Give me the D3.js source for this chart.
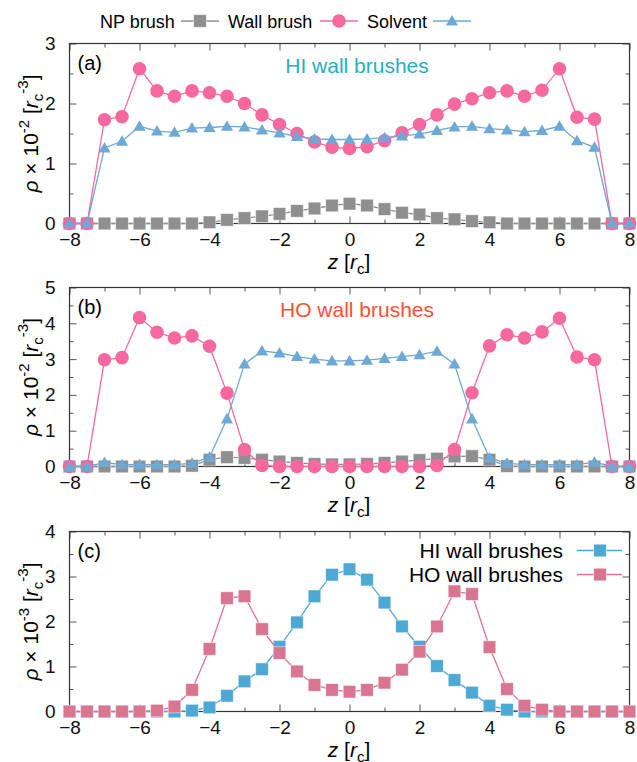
<!DOCTYPE html>
<html>
<head>
<meta charset="utf-8">
<script src="https://cdn.jsdelivr.net/npm/d3@7"></script>
<style>
  body { margin: 0; background: #fff; }
  text { font-family: "Liberation Sans", Arial, sans-serif; }
</style>
</head>
<body>
<svg id="chart" width="637" height="762"></svg>
<script>
// z positions shared by every series
const zVals = [-8, -7.5, -7, -6.5, -6, -5.5, -5, -4.5, -4, -3.5, -3, -2.5, -2, -1.5, -1, -0.5,
  0, 0.5, 1, 1.5, 2, 2.5, 3, 3.5, 4, 4.5, 5, 5.5, 6, 6.5, 7, 7.5, 8]

// panel (a) HI wall brushes, rho x 1e-2
const aNP = [0, 0, 0, 0, 0, 0, 0, 0, 0.02, 0.06, 0.09, 0.12, 0.16, 0.21, 0.25, 0.30,
  0.33, 0.30, 0.24, 0.18, 0.15, 0.09, 0.07, 0.04, 0.02, 0, 0, 0, 0, 0, 0, 0, 0]
const aWall = [0, 0, 1.73, 1.78, 2.58, 2.21, 2.12, 2.21, 2.18, 2.12, 2.0, 1.81, 1.65, 1.50, 1.36, 1.27,
  1.25, 1.28, 1.38, 1.51, 1.65, 1.81, 1.99, 2.08, 2.18, 2.21, 2.12, 2.22, 2.58, 1.77, 1.74, 0, 0]
const aSolv = [0, 0, 1.26, 1.37, 1.62, 1.54, 1.52, 1.59, 1.60, 1.62, 1.61, 1.56, 1.51, 1.45, 1.41, 1.40,
  1.40, 1.41, 1.43, 1.46, 1.49, 1.55, 1.61, 1.62, 1.58, 1.56, 1.53, 1.55, 1.62, 1.38, 1.27, 0, 0]

// panel (b) HO wall brushes, rho x 1e-2
const bNP = [0, 0, 0, 0, 0, 0, 0, 0.02, 0.19, 0.26, 0.24, 0.19, 0.14, 0.10, 0.07, 0.06,
  0.06, 0.07, 0.10, 0.14, 0.18, 0.22, 0.28, 0.29, 0.19, 0.01, 0, 0, 0, 0, 0, 0, 0]
const bWall = [0, 0, 2.98, 3.04, 4.16, 3.75, 3.59, 3.65, 3.36, 2.05, 0.47, 0.03, 0, 0, 0, 0,
  0, 0, 0, 0, 0, 0.03, 0.47, 2.06, 3.37, 3.68, 3.59, 3.76, 4.14, 3.06, 2.98, 0, 0]
const bSolv = [0, 0, 0.11, 0.05, 0.05, 0.05, 0.05, 0.09, 0.26, 1.33, 2.86, 3.23, 3.17, 3.07, 3.0, 2.95,
  2.95, 2.97, 3.02, 3.07, 3.12, 3.22, 2.86, 1.33, 0.24, 0.09, 0.05, 0.05, 0.05, 0.05, 0.12, 0, 0]

// panel (c) NP brush, rho x 1e-3
const cHI = [0, 0, 0, 0, 0, 0, 0, 0.02, 0.09, 0.35, 0.67, 0.94, 1.44, 1.98, 2.56, 3.04,
  3.16, 2.93, 2.42, 1.89, 1.44, 1.01, 0.70, 0.42, 0.13, 0.04, 0, 0, 0, 0, 0, 0, 0]
const cHO = [0, 0, 0, 0, 0, 0.02, 0.11, 0.48, 1.39, 2.52, 2.56, 1.83, 1.30, 0.89, 0.59, 0.48,
  0.44, 0.48, 0.64, 0.93, 1.33, 1.89, 2.67, 2.61, 1.43, 0.50, 0.13, 0.04, 0, 0, 0, 0, 0]

const xTicks = [-8, -6, -4, -2, 0, 2, 4, 6, 8]

const colors = {
  np: '#8f8f8f', wall: '#f7699e', solv: '#6ea9d6',
  hi: '#4ea8d4', ho: '#d97591', hiTitle: '#1fb0c2', hoTitle: '#ff4f35'
}

const svg = d3.select('#chart')
const left = 69.5, right = 629.5
const x = d3.scaleLinear().domain([-8, 8]).range([left, right])

const panels = [
  { top: 43.5, bottom: 223.5, yMax: 3, exp: '-2', tag: '(a)', title: 'HI wall brushes', titleColor: colors.hiTitle,
    series: [
      { vals: aNP, color: colors.np, shape: 'square' },
      { vals: aWall, color: colors.wall, shape: 'circle' },
      { vals: aSolv, color: colors.solv, shape: 'triangle' }] },
  { top: 287.5, bottom: 466.5, yMax: 5, exp: '-2', tag: '(b)', title: 'HO wall brushes', titleColor: colors.hoTitle,
    series: [
      { vals: bNP, color: colors.np, shape: 'square' },
      { vals: bWall, color: colors.wall, shape: 'circle' },
      { vals: bSolv, color: colors.solv, shape: 'triangle' }] },
  { top: 531.5, bottom: 711.5, yMax: 4, exp: '-3', tag: '(c)', title: null,
    series: [
      { vals: cHI, color: colors.hi, shape: 'square', label: 'HI wall brushes' },
      { vals: cHO, color: colors.ho, shape: 'square', label: 'HO wall brushes' }] }
]

function marker(g, shape, color, cx, cy) {
  if (shape == 'circle') {
    g.append('circle').attr('cx', cx).attr('cy', cy).attr('r', 6.8).attr('fill', color)
  } else if (shape == 'square') {
    g.append('rect').attr('x', cx - 6.3).attr('y', cy - 6.3).attr('width', 12.6).attr('height', 12.6)
      .attr('fill', color).attr('stroke', '#fff').attr('stroke-opacity', 0.6).attr('stroke-width', 0.8)
  } else {
    g.append('path').attr('d', d3.symbol(d3.symbolTriangle, 64)()).attr('transform', `translate(${cx},${cy + 1})`)
      .attr('fill', color)
  }
}

function rangeStep(a, b, s) {
  const out = []
  for (let v = a; v <= b + 1e-9; v += s) out.push(+v.toFixed(3))
  return out
}

panels.forEach(p => {
  const y = d3.scaleLinear().domain([0, p.yMax]).range([p.bottom, p.top])
  const g = svg.append('g')

  // inward ticks on all four sides
  const axStyle = sel => {
    sel.select('.domain').remove()
    sel.selectAll('line').attr('stroke', '#555')
    sel.selectAll('text').attr('font-size', 19).attr('fill', '#111')
  }
  const minorX = rangeStep(-7, 7, 2)
  const minorY = rangeStep(0.5, p.yMax, 1)
  const majorY = rangeStep(0, p.yMax, 1)

  g.append('g').attr('transform', `translate(0,${p.bottom})`)
    .call(d3.axisBottom(x).tickValues(xTicks).tickSize(-7).tickPadding(9).tickFormat(d3.format('d')))
    .call(axStyle)
  g.append('g').attr('transform', `translate(0,${p.bottom})`)
    .call(d3.axisBottom(x).tickValues(minorX).tickSize(-4).tickFormat('')).call(axStyle)
  g.append('g').attr('transform', `translate(0,${p.top})`)
    .call(d3.axisTop(x).tickValues(xTicks).tickSize(-7).tickFormat('')).call(axStyle)
  g.append('g').attr('transform', `translate(0,${p.top})`)
    .call(d3.axisTop(x).tickValues(minorX).tickSize(-4).tickFormat('')).call(axStyle)
  g.append('g').attr('transform', `translate(${left},0)`)
    .call(d3.axisLeft(y).tickValues(majorY).tickSize(-7).tickPadding(14).tickFormat(d3.format('d')))
    .call(axStyle)
  g.append('g').attr('transform', `translate(${left},0)`)
    .call(d3.axisLeft(y).tickValues(minorY).tickSize(-4).tickFormat('')).call(axStyle)
  g.append('g').attr('transform', `translate(${right},0)`)
    .call(d3.axisRight(y).tickValues(majorY).tickSize(-7).tickFormat('')).call(axStyle)
  g.append('g').attr('transform', `translate(${right},0)`)
    .call(d3.axisRight(y).tickValues(minorY).tickSize(-4).tickFormat('')).call(axStyle)

  g.append('rect').attr('x', left).attr('y', p.top).attr('width', right - left).attr('height', p.bottom - p.top)
    .attr('fill', 'none').attr('stroke', '#333').attr('stroke-width', 1.2)

  // series
  const line = d3.line().x((d, i) => x(zVals[i])).y(d => y(d))
  p.series.forEach(s => {
    g.append('path').datum(s.vals).attr('d', line).attr('fill', 'none')
      .attr('stroke', s.color).attr('stroke-width', 1.3)
    const mg = g.append('g')
    s.vals.forEach((v, i) => marker(mg, s.shape, s.color, x(zVals[i]), y(v)))
  })

  // panel tag and title
  g.append('text').attr('x', left + 8).attr('y', p.top + 26).attr('font-size', 20).text(p.tag)
  if (p.title) {
    g.append('text').attr('x', 357).attr('y', p.top + 29).attr('text-anchor', 'middle')
      .attr('font-size', 21).attr('fill', p.titleColor).text(p.title)
  }

  // x label
  const xl = g.append('text').attr('x', 349).attr('y', p.bottom + 45).attr('text-anchor', 'middle').attr('font-size', 21)
  xl.append('tspan').attr('font-style', 'italic').text('z')
  xl.append('tspan').text(' [')
  xl.append('tspan').attr('font-style', 'italic').text('r')
  xl.append('tspan').attr('font-size', 15).attr('dy', 5).text('c')
  xl.append('tspan').attr('dy', -5).text(']')

  // y label
  const cy = (p.top + p.bottom) / 2
  const yl = g.append('text').attr('transform', `translate(38,${cy}) rotate(-90)`)
    .attr('text-anchor', 'middle').attr('font-size', 21)
  yl.append('tspan').attr('font-style', 'italic').text('ρ')
  yl.append('tspan').text(' × 10')
  yl.append('tspan').attr('font-size', 15).attr('dy', -9).text(p.exp)
  yl.append('tspan').attr('dy', 9).text(' [')
  yl.append('tspan').attr('font-style', 'italic').text('r')
  yl.append('tspan').attr('font-size', 15).attr('dy', 5).text('c')
  yl.append('tspan').attr('font-size', 15).attr('dy', -15).text('-3')
  yl.append('tspan').attr('dy', 10).text(']')

  // legend inside panel (c)
  p.series.filter(s => s.label).forEach((s, i) => {
    const ly = p.top + 19 + i * 24
    g.append('text').attr('x', 563).attr('y', ly + 7).attr('text-anchor', 'end').attr('font-size', 21).text(s.label)
    g.append('line').attr('x1', 577).attr('x2', 622).attr('y1', ly).attr('y2', ly)
      .attr('stroke', s.color).attr('stroke-width', 1.3)
    marker(g, s.shape, s.color, 600, ly)
  })
})

// top legend
const topLegend = [
  { label: 'NP brush', color: colors.np, shape: 'square', tx: 100, lx: 181 },
  { label: 'Wall brush', color: colors.wall, shape: 'circle', tx: 228, lx: 320 },
  { label: 'Solvent', color: colors.solv, shape: 'triangle', tx: 367, lx: 433 }
]
topLegend.forEach(d => {
  svg.append('text').attr('x', d.tx).attr('y', 28).attr('font-size', 18).text(d.label)
  svg.append('line').attr('x1', d.lx).attr('x2', d.lx + 38).attr('y1', 21).attr('y2', 21)
    .attr('stroke', d.color).attr('stroke-width', 1.3)
  marker(svg, d.shape, d.color, d.lx + 19, 21)
})
</script>
</body>
</html>
